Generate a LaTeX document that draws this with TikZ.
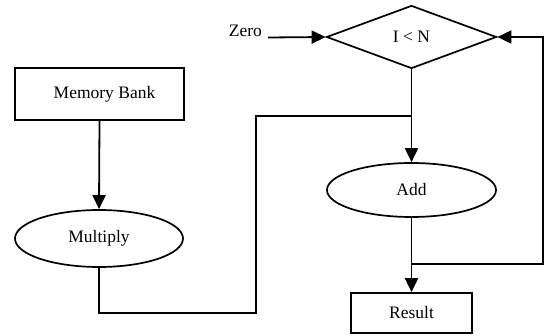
\documentclass[tikz,border=0pt]{standalone}
\usepackage{fontspec}
\setmainfont{Liberation Serif}
\usetikzlibrary{shapes.geometric,arrows.meta}
\begin{document}
\begin{tikzpicture}[x=1pt,y=-1pt,
  every node/.style={font=\fontsize{17.5}{20}\selectfont, line width=1.7pt},
  box/.style={draw, rectangle, inner sep=0pt},
  oval/.style={draw, ellipse, inner sep=0pt},
  decision/.style={draw, diamond, inner sep=0pt, aspect=2.7},
  conn/.style={line width=1.8pt},
  arr/.style={conn, -{Triangle[length=14pt,width=13pt]}}]
\useasboundingbox (0,0) rectangle (545,336);
\node[decision, minimum width=170pt, minimum height=63pt] (dia) at (411.5,37) {I < N};
\node[box, minimum width=169pt, minimum height=52pt] (mem) at (99.5,94) {\hspace{10pt}Memory Bank};
\node[oval, minimum width=168pt, minimum height=57pt] (mul) at (99,238.5) {Multiply};
\node[oval, minimum width=169pt, minimum height=54pt] (add) at (411.5,190) {Add};
\node[box, minimum width=121pt, minimum height=40pt] (res) at (411.5,313) {Result};
\node[anchor=base west, inner sep=0pt] (zero) at (228,37) {Zero};
\coordinate (z) at (268,37.5);
\coordinate (j1) at (411.5,116);
\coordinate (j2) at (411.5,264);
\draw[arr] (z) -- (dia.west);
\draw[arr] (mem.south) -- (mul.north);
\draw[conn] (mul.south) |- (256,313) -- (256,116) -- (j1);
\draw[arr] (dia.south) -- (add.north);
\draw[arr] (add.south) -- (res.north);
\draw[arr] (j2) -| (543,37) -- (dia.east);
\end{tikzpicture}
\end{document}
